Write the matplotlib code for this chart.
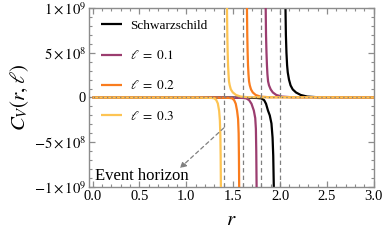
import numpy as np
import matplotlib
matplotlib.use('Agg')
import matplotlib.pyplot as plt
from matplotlib.ticker import MultipleLocator, FixedLocator

plt.rcParams['font.family'] = ['Liberation Serif', 'DejaVu Serif']
plt.rcParams['mathtext.fontset'] = 'stix'

# values, C_V in units of 1e8
labels = ['Schwarzschild', r'$\ell\ =\ 0.1$', r'$\ell\ =\ 0.2$', r'$\ell\ =\ 0.3$']
colors = ['black', '#9b3d6f', '#f97c1e', '#fdc453']
horizons = [2.0, 1.8, 1.6, 1.4]

r_left = [
    [0.0, 1.5, 1.75, 1.80, 1.83, 1.85, 1.871, 1.89, 1.908, 1.920, 1.927, 1.934],
    [0.0, 1.4, 1.60, 1.64, 1.67, 1.695, 1.72, 1.735, 1.742, 1.746, 1.750],
    [0.0, 1.3, 1.46, 1.49, 1.51, 1.527, 1.541, 1.552, 1.558, 1.561, 1.564],
    [0.0, 1.1, 1.27, 1.30, 1.32, 1.336, 1.350, 1.358, 1.363, 1.366, 1.369],
]
c_left = [
    [0.0, -0.01, -0.05, -0.1, -0.3, -0.7, -1.46, -2.0, -2.9, -4.5, -6.5, -10.5],
    [0.0, -0.01, -0.05, -0.1, -0.3, -0.7, -1.46, -2.3, -3.5, -6.0, -10.5],
    [0.0, -0.01, -0.05, -0.1, -0.3, -0.7, -1.46, -2.4, -4.0, -6.5, -10.5],
    [0.0, -0.01, -0.05, -0.1, -0.3, -0.67, -1.5, -2.6, -4.3, -6.5, -10.5],
]
r_right = [
    [2.057, 2.062, 2.068, 2.075, 2.082, 2.095, 2.112, 2.135, 2.17, 2.22, 2.29, 2.40, 3.0],
    [1.846, 1.850, 1.855, 1.860, 1.865, 1.872, 1.882, 1.90, 1.923, 1.96, 2.02, 2.12, 3.0],
    [1.646, 1.650, 1.654, 1.658, 1.663, 1.669, 1.677, 1.69, 1.709, 1.74, 1.79, 1.88, 3.0],
    [1.433, 1.437, 1.441, 1.445, 1.450, 1.455, 1.463, 1.475, 1.496, 1.53, 1.58, 1.66, 3.0],
]
c_right = [
    [10.5, 7.0, 5.0, 3.6, 2.8, 2.0, 1.35, 0.9, 0.56, 0.28, 0.1, 0.03, 0.0],
    [10.5, 7.0, 5.0, 3.6, 2.6, 1.8, 1.35, 0.9, 0.56, 0.28, 0.1, 0.03, 0.0],
    [10.5, 7.0, 5.0, 3.6, 2.6, 1.8, 1.35, 0.9, 0.56, 0.28, 0.1, 0.03, 0.0],
    [10.5, 7.0, 5.0, 3.6, 2.6, 1.8, 1.35, 0.9, 0.56, 0.28, 0.1, 0.03, 0.0],
]

ytick_vals = [-1e9, -5e8, 0, 5e8, 1e9]
ytick_labels = [r'$-1\times10^{9}$', r'$-5\times10^{8}$', '0',
                r'$5\times10^{8}$', r'$1\times10^{9}$']

fig = plt.figure(figsize=(3.83, 2.41), dpi=100)
ax = fig.add_axes([0.232, 0.224, 0.744, 0.743])

for i in range(4):
    ax.plot(r_left[i], np.array(c_left[i]) * 1e8, color=colors[i], lw=1.6,
            label=labels[i], zorder=2 + i, solid_capstyle='butt')
    ax.plot(r_right[i], np.array(c_right[i]) * 1e8, color=colors[i], lw=1.6,
            zorder=2 + i, solid_capstyle='butt')

for rh in horizons:
    ax.axvline(rh, color='#808080', lw=0.9, ls=(0, (3.5, 2.5)), zorder=10)
ax.axhline(0, color='#808080', lw=0.9, ls=(0, (1, 2.5)), zorder=10)

ax.annotate('', xy=(0.93, -7.9e8), xytext=(1.40, -3.4e8),
            arrowprops=dict(arrowstyle='-|>', color='#808080', lw=0.9,
                            ls=(0, (3, 2.5)), mutation_scale=9,
                            shrinkA=0, shrinkB=0), zorder=11)
ax.text(0.025, -8.8e8, 'Event horizon', fontsize=12, va='center', ha='left')

ax.set_xlim(-0.04, 3.0)
ax.set_ylim(-1e9, 1e9)
ax.xaxis.set_major_locator(FixedLocator([0, 0.5, 1.0, 1.5, 2.0, 2.5, 3.0]))
ax.xaxis.set_minor_locator(MultipleLocator(0.1))
ax.set_xticklabels(['0.0', '0.5', '1.0', '1.5', '2.0', '2.5', '3.0'])
ax.set_yticks(ytick_vals)
ax.set_yticklabels(ytick_labels)
ax.yaxis.set_minor_locator(MultipleLocator(1e8))

for s in ax.spines.values():
    s.set_color('#8c8c8c')
    s.set_linewidth(1.0)
ax.tick_params(which='both', direction='in', top=True, right=True,
               color='#8c8c8c', labelsize=10.5, pad=2)
ax.tick_params(which='major', length=4, width=0.9)
ax.tick_params(which='minor', length=2, width=0.8)

ax.set_xlabel(r'$r$', fontsize=15, labelpad=6)
ax.set_ylabel(r'$C_V(r,\ell)$', fontsize=15, labelpad=2)

ax.legend(loc='upper left', frameon=False, fontsize=9.5, handlelength=1.6,
          handletextpad=0.6, labelspacing=1.3, borderaxespad=0.5,
          bbox_to_anchor=(0.0, 1.0))

fig.savefig('out.png', dpi=100)
